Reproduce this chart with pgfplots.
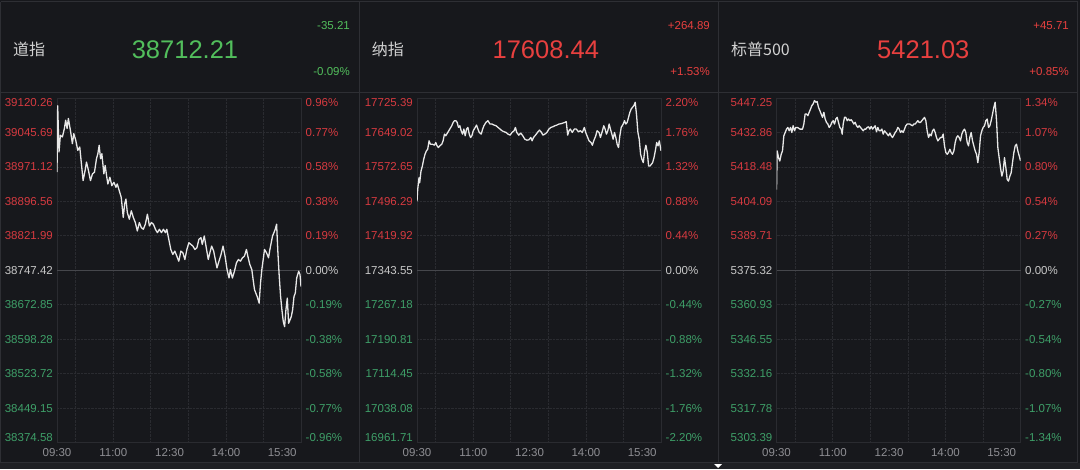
\documentclass[border=0pt]{standalone}
\usepackage{fontspec}
\setmainfont{Liberation Sans}
\newfontfamily\cjk{Noto Sans CJK SC}
\usepackage{pgfplots}
\pgfplotsset{compat=1.18}
\usetikzlibrary{calc}

\definecolor{bgc}{HTML}{17181C}
\definecolor{bordc}{HTML}{2E2F34}
\definecolor{gridc}{HTML}{2A2B30}
\definecolor{zc}{HTML}{46474C}
\definecolor{linec}{HTML}{E8E8E8}
\definecolor{upc}{HTML}{D63A40}
\definecolor{dnc}{HTML}{3E9F68}
\definecolor{zlab}{HTML}{C8C8C8}
\definecolor{timec}{HTML}{8E8E93}
\definecolor{namec}{HTML}{D2D2D2}
\definecolor{hup}{HTML}{E8403F}
\definecolor{hdn}{HTML}{52BE5C}
\definecolor{stripc}{HTML}{1F2024}

\newcommand\labfont{\fontsize{11.5}{13}\selectfont}

\pgfplotsset{
  panel/.style={
    scale only axis, width=244pt, height=344.5pt, anchor=south west,
    xmin=0, xmax=390,
    scaled y ticks=false, scaled x ticks=false,
    xtick={0,90,180,270,360},
    xticklabels={09:30,11:00,12:30,14:00,15:30},
    extra x ticks={30,90,150,210,270,330},
    extra x tick labels={},
    extra x tick style={grid=major},
    yticklabels={},
    ymajorgrids,
    major tick length=0pt,
    major grid style={gridc, densely dotted, line width=0.7pt},
    axis line style={gridc, line width=0.7pt},
    xticklabel style={font=\labfont, text=timec, inner sep=0pt, anchor=north, yshift=-6pt},
    extra y tick labels={},
    extra y tick style={grid=major, major grid style={solid, zc, line width=1pt}},
  },
  quote/.style={linec, line width=1.3pt, line join=round},
}

% left value / right percent / colour, top to bottom
\newcommand\ylabels[2]{%
  \foreach \l/\r/\c [count=\i from 0] in {#2} {
    \pgfmathsetmacro\s{\i==0 ? -4.7 : (\i==10 ? 4.7 : 0)}
    \node[font=\labfont, inner sep=0pt, anchor=east, text=\c]
      at ($(#1.north west)!\i/10!(#1.south west)+(-4pt,\s pt)$) {\l};
    \node[font=\labfont, inner sep=0pt, anchor=west, text=\c]
      at ($(#1.north east)!\i/10!(#1.south east)+(4.5pt,\s pt)$) {\r\%};
  }}

\begin{document}
\begin{tikzpicture}
\path[use as bounding box, fill=bgc] (0pt,0pt) rectangle (1080pt,469pt);
\fill[stripc] (0pt,0pt) rectangle (1080pt,6.5pt);
\fill[white] (714pt,5pt) -- (722pt,5pt) -- (718pt,1pt) -- cycle;

% panel frames
\begin{scope}[bordc, line width=1pt]
  \draw (0.5pt,467.3pt) -- (1077.5pt,467.3pt);
  \draw (0.5pt,376pt) -- (1077.5pt,376pt);
  \draw (0.5pt,6.5pt) -- (1077.5pt,6.5pt);
  \foreach \x in {0.5,359,718,1077.5} \draw (\x pt,6.5pt) -- (\x pt,467.3pt);
\end{scope}

% headers
\node[anchor=west, inner sep=0pt, text=namec, font=\cjk\fontsize{16}{18}\selectfont] at (13pt,419.5pt) {道指};
\node[inner sep=0pt, text=hdn, font=\fontsize{25.5}{28}\selectfont] at (185pt,419.3pt) {38712.21};
\node[anchor=east, inner sep=0pt, text=hdn, font=\labfont] at (350pt,443.2pt) {-35.21};
\node[anchor=east, inner sep=0pt, text=hdn, font=\labfont] at (350pt,397.7pt) {-0.09\%};

\node[anchor=west, inner sep=0pt, text=namec, font=\cjk\fontsize{16}{18}\selectfont] at (371.7pt,419.5pt) {纳指};
\node[inner sep=0pt, text=hup, font=\fontsize{25.5}{28}\selectfont] at (545.8pt,419.3pt) {17608.44};
\node[anchor=east, inner sep=0pt, text=hup, font=\labfont] at (710pt,443.2pt) {+264.89};
\node[anchor=east, inner sep=0pt, text=hup, font=\labfont] at (710pt,397.7pt) {+1.53\%};

\node[anchor=west, inner sep=0pt, text=namec, font=\cjk\fontsize{16}{18}\selectfont] at (731pt,419.5pt) {标普500};
\node[inner sep=0pt, text=hup, font=\fontsize{25.5}{28}\selectfont] at (923.3pt,419.3pt) {5421.03};
\node[anchor=east, inner sep=0pt, text=hup, font=\labfont] at (1069pt,443.2pt) {+45.71};
\node[anchor=east, inner sep=0pt, text=hup, font=\labfont] at (1069pt,397.7pt) {+0.85\%};

% Dow
\begin{axis}[panel, name=d1, at={(57pt,26.5pt)},
  ymin=38374.58, ymax=39120.26,
  ytick={38374.58,38449.15,38523.72,38598.28,38672.85,38821.99,38896.56,38971.12,39045.69,39120.26},
  extra y ticks={38747.42}]
\addplot[quote] coordinates {
(0,38959.65)(1.1,39103.55)(3.2,39003.25)(5.4,39039.59)(8.6,39035.96)(11.8,39054.13)(13.9,39072.30)(16.1,39054.13)(18.2,39075.93)(21.4,39050.50)(24.6,39021.42)(26.8,39043.23)(30.0,39028.69)(33.2,39006.89)(36.4,39014.16)(38.5,38985.08)(41.7,38941.48)(44.9,38963.28)(47.1,38981.45)(50.3,38963.28)(53.5,38941.48)(56.7,38956.01)(59.9,38959.65)(63.1,38988.72)(65.3,38999.62)(67.4,39017.79)(69.6,38988.72)(71.7,38999.62)(74.9,38956.01)(77.0,38974.18)(79.2,38952.38)(81.3,38934.21)(84.5,38948.74)(87.7,38930.57)(91.0,38937.84)(94.2,38926.94)(96.3,38934.21)(99.5,38919.67)(102.7,38905.14)(105.9,38861.53)(108.1,38890.60)(110.2,38901.50)(112.4,38872.43)(115.6,38857.89)(118.8,38876.06)(122.0,38861.53)(125.2,38850.63)(128.4,38832.46)(131.6,38850.63)(134.8,38839.72)(138.0,38836.09)(141.2,38846.99)(144.5,38868.80)(147.7,38843.36)(150.9,38850.63)(154.1,38846.99)(157.3,38836.09)(160.5,38828.82)(163.7,38836.09)(166.9,38828.82)(170.1,38836.09)(173.3,38828.82)(175.5,38836.09)(178.7,38814.29)(181.9,38792.48)(185.1,38781.58)(188.3,38788.85)(191.5,38777.95)(194.7,38767.04)(198.0,38788.85)(201.2,38785.21)(204.4,38770.68)(207.6,38792.48)(210.8,38807.02)(214.0,38803.38)(217.2,38799.75)(220.4,38792.48)(223.6,38796.12)(226.8,38814.29)(230.1,38817.92)(232.2,38803.38)(235.4,38821.55)(238.6,38796.12)(241.8,38770.68)(245.0,38788.85)(247.2,38799.75)(250.4,38788.85)(253.6,38767.04)(255.7,38752.51)(258.9,38767.04)(262.2,38781.58)(265.4,38799.75)(268.6,38777.95)(271.8,38748.87)(275.0,38730.70)(277.1,38748.87)(280.3,38730.70)(283.6,38745.24)(286.8,38763.41)(290.0,38770.68)(293.2,38767.04)(296.4,38774.31)(299.6,38777.95)(302.8,38792.48)(305.0,38777.95)(308.2,38759.78)(311.4,38748.87)(313.5,38727.07)(315.7,38705.27)(317.8,38698.00)(319.9,38690.73)(323.1,38676.19)(325.3,38719.80)(327.4,38748.87)(329.6,38770.68)(331.7,38792.48)(334.9,38785.21)(338.1,38774.31)(340.3,38792.48)(342.4,38807.02)(344.5,38821.55)(346.7,38828.82)(348.8,38836.09)(351.0,38846.99)(353.1,38785.21)(355.2,38734.34)(357.4,38690.73)(359.5,38661.66)(361.7,38636.22)(363.8,38625.32)(365.9,38661.66)(368.1,38687.10)(370.2,38632.59)(372.4,38639.85)(374.5,38647.12)(376.6,38661.66)(378.8,38690.73)(380.9,38698.00)(383.1,38730.70)(386.3,38745.24)(388.4,38737.97)(390,38712.21)
};
\end{axis}

% Nasdaq
\begin{axis}[panel, name=d2, at={(417pt,26.5pt)},
  ymin=16961.71, ymax=17725.39,
  ytick={16961.71,17038.08,17114.45,17190.81,17267.18,17419.92,17496.29,17572.65,17649.02,17725.39},
  extra y ticks={17343.55}]
\addplot[quote] coordinates {
(0,17496.44)(1.1,17522.49)(3.2,17548.54)(4.3,17537.37)(6.4,17563.43)(8.6,17574.59)(10.7,17589.48)(12.8,17600.64)(15.0,17608.08)(17.1,17611.80)(19.3,17630.41)(21.4,17622.97)(24.6,17622.97)(27.8,17620.74)(30.0,17626.69)(32.1,17619.25)(34.2,17615.53)(36.4,17619.25)(39.6,17622.97)(41.7,17630.41)(43.9,17645.30)(46.0,17641.58)(49.2,17649.02)(52.4,17656.46)(55.6,17663.91)(57.8,17671.35)(59.9,17675.07)(62.1,17675.07)(64.2,17671.35)(66.3,17660.18)(68.5,17663.91)(70.6,17652.74)(72.8,17645.30)(74.9,17656.46)(77.0,17641.58)(79.2,17656.46)(81.3,17660.18)(83.5,17645.30)(85.6,17637.86)(87.7,17641.58)(89.9,17652.74)(93.1,17660.18)(95.2,17665.39)(97.4,17656.46)(99.5,17649.02)(102.7,17645.30)(104.9,17656.46)(107.0,17663.91)(110.2,17671.35)(113.4,17675.07)(116.6,17667.63)(119.8,17667.63)(123.1,17665.39)(126.3,17663.91)(129.5,17660.18)(132.7,17656.46)(135.9,17652.74)(139.1,17650.51)(142.3,17649.02)(145.5,17645.30)(148.7,17643.07)(151.9,17649.02)(155.2,17652.74)(157.3,17660.18)(159.4,17649.02)(162.6,17643.07)(165.9,17647.53)(169.1,17641.58)(172.3,17634.13)(175.5,17631.90)(178.7,17632.65)(181.9,17637.86)(184.0,17630.41)(186.2,17637.86)(189.4,17643.07)(192.6,17649.02)(195.8,17654.23)(199.0,17649.02)(201.2,17643.07)(204.4,17645.30)(207.6,17649.02)(210.8,17656.46)(214.0,17660.18)(217.2,17661.67)(220.4,17663.91)(223.6,17665.39)(226.8,17667.63)(230.1,17668.37)(233.3,17669.86)(236.5,17671.35)(238.6,17672.84)(240.8,17643.07)(242.9,17652.74)(245.0,17656.46)(248.2,17649.02)(251.5,17656.46)(254.7,17656.46)(257.9,17650.51)(261.1,17652.74)(264.3,17649.02)(267.5,17660.18)(269.6,17649.02)(271.8,17641.58)(275.0,17630.41)(278.2,17626.69)(280.3,17620.74)(282.5,17630.41)(285.7,17641.58)(287.8,17652.74)(291.0,17649.02)(293.2,17637.86)(296.4,17652.74)(298.5,17663.91)(300.7,17656.46)(302.8,17645.30)(305.0,17652.74)(307.1,17667.63)(309.2,17656.46)(311.4,17645.30)(313.5,17634.13)(315.7,17649.02)(317.8,17637.86)(319.9,17622.97)(322.1,17615.53)(324.2,17641.58)(326.4,17660.18)(329.6,17667.63)(331.7,17675.07)(333.8,17667.63)(336.0,17671.35)(338.1,17682.51)(340.3,17693.68)(342.4,17701.12)(344.5,17704.84)(346.7,17708.56)(348.8,17716.01)(351.0,17686.24)(353.1,17649.02)(355.2,17634.13)(357.4,17600.64)(359.5,17589.48)(361.7,17582.03)(363.8,17608.08)(365.9,17620.74)(368.1,17604.36)(370.2,17574.59)(372.4,17574.59)(374.5,17578.31)(376.6,17582.03)(378.8,17593.20)(380.9,17608.08)(383.1,17626.69)(385.2,17619.25)(387.3,17630.41)(390,17608.44)
};
\end{axis}

% S&P 500
\begin{axis}[panel, name=d3, at={(776.5pt,26.5pt)},
  ymin=5303.39, ymax=5447.25,
  ytick={5303.39,5317.78,5332.16,5346.55,5360.93,5389.71,5404.09,5418.48,5432.86,5447.25},
  extra y ticks={5375.32}]
\addplot[quote] coordinates {
(0,5409.03)(1.1,5425.15)(3.2,5422.34)(5.3,5420.94)(7.5,5423.75)(9.6,5425.15)(11.7,5431.46)(13.9,5432.86)(16.0,5434.26)(18.1,5434.96)(20.3,5433.56)(22.4,5434.96)(24.5,5432.86)(26.6,5435.66)(28.8,5433.56)(30.9,5434.96)(33.0,5434.96)(35.2,5434.68)(37.3,5434.26)(39.4,5434.26)(41.6,5434.26)(43.7,5436.37)(45.8,5440.57)(48.0,5440.57)(50.1,5439.87)(52.2,5441.27)(54.4,5442.67)(56.5,5444.08)(58.6,5444.78)(60.7,5446.18)(62.9,5445.48)(65.0,5445.76)(67.1,5443.38)(69.3,5441.97)(71.4,5440.57)(73.5,5439.17)(75.7,5441.27)(77.8,5438.47)(79.9,5437.07)(82.1,5436.37)(84.2,5434.96)(86.3,5435.66)(88.4,5437.07)(90.6,5437.77)(92.7,5436.37)(94.8,5438.47)(97.0,5439.17)(99.1,5437.07)(101.2,5434.96)(103.4,5434.26)(105.0,5432.16)(106.6,5436.37)(108.7,5439.17)(110.8,5439.17)(113.0,5437.77)(115.1,5438.47)(117.2,5437.77)(119.4,5438.19)(121.5,5437.35)(123.6,5436.37)(125.7,5437.07)(127.9,5435.66)(130.0,5434.96)(132.1,5435.66)(134.3,5434.96)(136.4,5434.26)(138.5,5433.56)(140.7,5434.26)(142.8,5434.26)(144.9,5434.96)(147.1,5435.24)(149.2,5434.26)(151.3,5435.38)(153.5,5434.26)(155.6,5434.96)(157.7,5435.66)(159.8,5433.14)(162.0,5434.96)(164.1,5433.56)(166.2,5433.56)(168.4,5434.26)(170.5,5432.16)(172.6,5433.56)(174.8,5432.86)(176.9,5432.16)(179.0,5431.46)(181.2,5432.58)(183.3,5431.46)(185.4,5430.76)(187.6,5431.74)(189.7,5432.86)(191.8,5433.56)(193.9,5434.96)(196.1,5434.26)(198.2,5432.86)(200.3,5433.56)(202.5,5432.86)(204.6,5434.26)(206.7,5435.66)(208.9,5436.37)(211.0,5436.37)(213.1,5436.37)(215.3,5435.94)(217.4,5435.66)(219.5,5436.37)(221.6,5436.37)(223.8,5437.07)(225.9,5437.77)(228.0,5437.07)(230.2,5437.07)(232.3,5437.77)(234.4,5438.47)(236.6,5439.17)(238.7,5437.77)(240.8,5433.56)(243.0,5430.76)(245.1,5432.16)(247.2,5431.46)(249.4,5433.56)(251.5,5434.26)(253.6,5432.86)(255.7,5430.76)(257.9,5429.35)(260.0,5430.06)(262.1,5430.76)(264.3,5430.76)(266.4,5432.16)(268.5,5427.25)(270.7,5424.45)(272.8,5423.75)(274.9,5424.45)(277.1,5425.85)(279.2,5424.45)(281.3,5423.75)(283.5,5425.15)(285.6,5428.65)(287.7,5430.76)(289.8,5431.46)(292.0,5430.76)(294.1,5429.35)(296.2,5432.16)(298.4,5433.56)(300.5,5434.26)(302.6,5432.86)(304.8,5428.65)(306.9,5427.25)(309.0,5430.76)(311.2,5432.86)(313.3,5429.35)(315.4,5427.25)(317.6,5425.15)(319.7,5423.75)(321.8,5420.24)(323.9,5424.45)(326.1,5431.46)(328.2,5433.56)(330.3,5434.96)(332.5,5435.66)(334.6,5437.77)(336.7,5438.47)(338.9,5434.96)(341.0,5435.66)(343.1,5437.77)(345.3,5440.57)(347.4,5443.38)(349.5,5445.48)(351.7,5437.77)(353.8,5426.55)(355.9,5422.34)(358.0,5418.14)(360.2,5414.63)(362.3,5416.74)(364.4,5422.34)(366.6,5418.14)(368.7,5413.23)(370.8,5412.53)(373.0,5414.63)(375.1,5416.04)(377.2,5420.24)(379.4,5424.45)(381.5,5427.25)(383.6,5427.95)(385.8,5425.15)(390,5421.03)
};
\end{axis}

\ylabels{d1}{39120.26/0.96/upc, 39045.69/0.77/upc, 38971.12/0.58/upc, 38896.56/0.38/upc, 38821.99/0.19/upc, 38747.42/0.00/zlab, 38672.85/-0.19/dnc, 38598.28/-0.38/dnc, 38523.72/-0.58/dnc, 38449.15/-0.77/dnc, 38374.58/-0.96/dnc}
\ylabels{d2}{17725.39/2.20/upc, 17649.02/1.76/upc, 17572.65/1.32/upc, 17496.29/0.88/upc, 17419.92/0.44/upc, 17343.55/0.00/zlab, 17267.18/-0.44/dnc, 17190.81/-0.88/dnc, 17114.45/-1.32/dnc, 17038.08/-1.76/dnc, 16961.71/-2.20/dnc}
\ylabels{d3}{5447.25/1.34/upc, 5432.86/1.07/upc, 5418.48/0.80/upc, 5404.09/0.54/upc, 5389.71/0.27/upc, 5375.32/0.00/zlab, 5360.93/-0.27/dnc, 5346.55/-0.54/dnc, 5332.16/-0.80/dnc, 5317.78/-1.07/dnc, 5303.39/-1.34/dnc}
\end{tikzpicture}
\end{document}
